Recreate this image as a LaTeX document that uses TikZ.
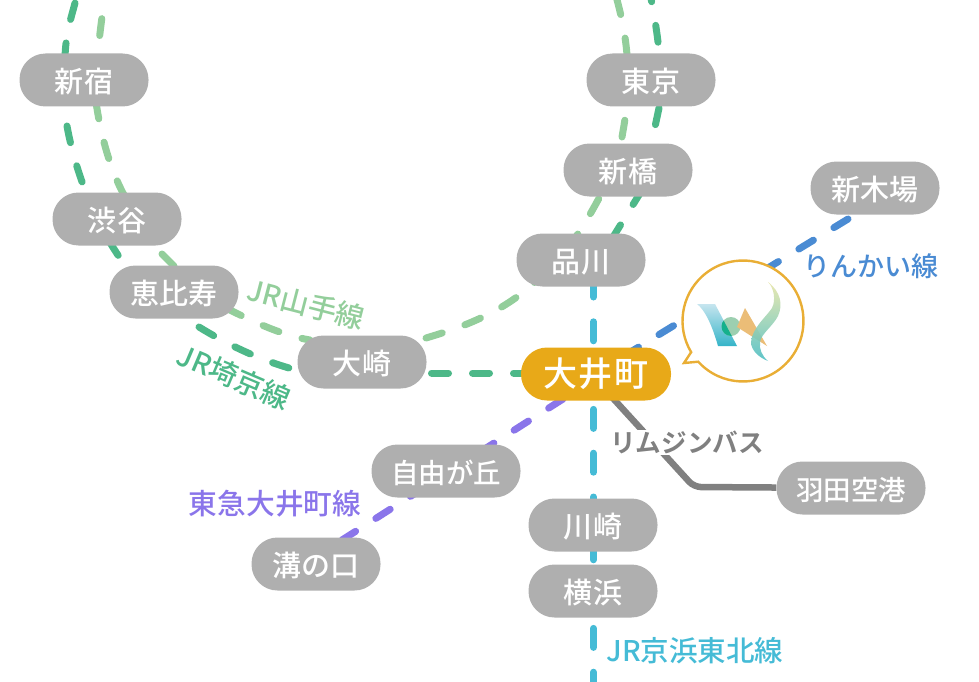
\documentclass[tikz,border=0pt]{standalone}
\usepackage{fontspec}
\setmainfont{Noto Sans CJK JP}
\newfontfamily\stnfont[LetterSpace=1]{Noto Sans CJK JP Medium}
\newfontfamily\stnnarrow{Noto Sans CJK JP Medium}
\newfontfamily\hubfont[LetterSpace=4]{Noto Sans CJK JP Medium}
\newfontfamily\labfont{Noto Sans CJK JP Medium}
\newfontfamily\busfont{Noto Sans CJK JP Bold}
\usetikzlibrary{calc,backgrounds}
\definecolor{stn}{HTML}{AFAFAF}
\definecolor{hub}{HTML}{E8A918}
\definecolor{yama}{HTML}{93CE9B}
\definecolor{saikyo}{HTML}{4DB888}
\definecolor{keihin}{HTML}{45BBD6}
\definecolor{rinkai}{HTML}{4A8BD3}
\definecolor{tokyu}{HTML}{8A75EA}
\definecolor{bus}{HTML}{808080}
\definecolor{ring}{HTML}{E9AE35}
\definecolor{logoa}{HTML}{C6E5EF}
\definecolor{logob}{HTML}{35B4C8}
\definecolor{logoc}{HTML}{9CCFB0}
\definecolor{logod}{HTML}{15B08C}
\definecolor{logoe}{HTML}{EBBD77}
\definecolor{logof}{HTML}{E8E6A8}
\definecolor{logog}{HTML}{8EC88E}
\definecolor{logoh}{HTML}{4DBFC5}
\tikzset{x=1pt,y=-1pt,
 station/.style={fill=stn,rounded corners=26pt,minimum width=129pt,minimum height=53pt,text=white,inner sep=0pt,text height=27pt,text depth=1.8pt,font=\fontsize{29}{29}\selectfont\stnfont},
 widestation/.style={fill=stn,rounded corners=26pt,minimum width=149pt,minimum height=53pt,text=white,inner sep=0pt,text height=27pt,text depth=1.8pt,font=\fontsize{27.5}{27.5}\selectfont\stnnarrow},
 hubst/.style={fill=hub,rounded corners=26pt,minimum width=150pt,minimum height=53pt,text=white,inner sep=0pt,font=\fontsize{34}{34}\selectfont\hubfont},
 rail/.style={line width=7pt,line cap=round,dash pattern=on 17pt off 24pt},
 longrail/.style={line width=7pt,line cap=round,dash pattern=on 19pt off 24.8pt},
 linelabel/.style={inner sep=0pt}}
\newcommand{\lab}[1]{\fontsize{#1}{#1}\selectfont\labfont}
\begin{document}
\begin{tikzpicture}
\useasboundingbox (0,0) rectangle (979,682);
\node[station] (shinjuku) at (84,80) {新宿};
\node[station] (shibuya) at (117,219) {渋谷};
\node[station] (ebisu) at (174,292) {恵比寿};
\node[station] (osaki) at (362,362) {大崎};
\node[station] (shinagawa) at (581,260) {品川};
\node[station] (shimbashi) at (628,170) {新橋};
\node[station] (tokyo) at (651,80) {東京};
\node[station] (shinkiba) at (875,188) {新木場};
\node[widestation] (haneda) at (851,488) {羽田空港};
\node[widestation] (jiyu) at (446,471) {自由が丘};
\node[station] (mizo) at (316,564) {溝の口};
\node[station] (kawasaki) at (593,525) {川崎};
\node[station] (yokohama) at (593,591) {横浜};
\node[hubst] (oimachi) at (596,374) {大井町};
\coordinate (ytop) at (107,-22);
\coordinate (yend) at (613,-15);
\coordinate (stop) at (75,3);
\coordinate (setop) at (648.5,-15);
\coordinate (kend) at (593.5,700);
\begin{scope}[on background layer]
% JR Yamanote
\draw[rail,yama] (ytop) .. controls (104,5) and (98,40) .. ($(shinjuku)+(12,-2)$);
\draw[rail,yama] ($(shinjuku)+(12,22)$) .. controls (100,130) and (108,165) .. ($(shibuya)+(7,-24)$);
\draw[rail,yama] ($(shibuya)+(45,35)$) -- ($(ebisu)+(2,-24)$);
\draw[rail,yama] ($(ebisu)+(52,16)$) .. controls (250,320) and (280,335) .. ($(osaki)+(-52,-22)$);
\draw[rail,yama] ($(osaki)+(64,-24)$) .. controls (470,325) and (505,310) .. ($(shinagawa)+(-46,22)$);
\draw[rail,yama] ($(shinagawa)+(-13,-12)$) .. controls (580,232) and (592,212) .. ($(shimbashi)+(-22,15)$);
\draw[rail,yama] ($(shimbashi)+(-6,-33)$) .. controls (624,125) and (627,110) .. ($(tokyo)+(-23,10)$);
\draw[rail,yama] ($(tokyo)+(-24,-25)$) .. controls (625,30) and (620,10) .. (yend);
% JR Saikyo
\draw[rail,saikyo] (stop) .. controls (72,15) and (65,35) .. ($(shinjuku)+(-19,-20)$);
\draw[rail,saikyo] ($(shinjuku)+(-17,46)$) .. controls (73,160) and (90,215) .. ($(shibuya)+(3,39)$);
\draw[rail,saikyo] ($(ebisu)+(25,35)$) .. controls (225,343) and (255,358) .. ($(osaki)+(-73,6)$);
\draw[rail,saikyo] ($(osaki)+(69.5,11)$) -- ($(oimachi)+(-66,-1)$);
\draw[rail,saikyo] (setop) .. controls (653,10) and (662,50) .. ($(tokyo)+(9,10)$);
\draw[rail,saikyo] ($(tokyo)+(8,28)$) -- ($(shimbashi)+(22,-20)$);
\draw[rail,saikyo] ($(shimbashi)+(14,20)$) -- ($(shinagawa)+(29,-18)$);
% others
\draw[longrail,keihin] ($(shinagawa)+(12.5,18)$) -- (kend);
\draw[rail,rinkai] ($(oimachi)+(28,-18)$) -- ($(shinkiba)+(-27,31)$);
\draw[rail,tokyu] ($(oimachi)+(-33,25)$) -- ($(mizo)+(26,-24)$);
\draw[line width=6.5pt,bus,rounded corners=7pt] ($(oimachi)+(14,21)$) -- ($(haneda)+(-157,-1)$) -- (haneda);
\end{scope}
% balloon
\coordinate (bc) at (743,321);
\path[fill=white,draw=ring,line width=2.4pt,line join=miter] (684,363) -- ($(bc)+(137.7:60.5)$) arc[start angle=137.7,end angle=-211,radius=60.5] -- cycle;
% logo
\shade[top color=logoa,bottom color=logob] (697,304) -- (715,304) -- (737,346) -- (718,346) .. controls (712,325) and (705,310) .. (697,304) -- cycle;
\fill[fill=logoc] (731,326.5) circle[radius=9.5];
\begin{scope}
\clip (697,304) -- (715,304) -- (737,346) -- (718,346) .. controls (712,325) and (705,310) .. (697,304) -- cycle;
\fill[logod] (731,326.5) circle[radius=9.5];
\end{scope}
\fill[fill=logoe] (745,308) -- (767,346) -- (737,327) -- cycle;
\shade[top color=logof,middle color=logog,bottom color=logoh,opacity=0.9] (768,282) .. controls (774,288) and (776,300) .. (772,308) .. controls (767,316) and (752,328) .. (751,342) .. controls (751,351) and (760,358) .. (768,361) .. controls (762,356) and (759,349) .. (760,342) .. controls (761,334) and (773,326) .. (778,316) .. controls (783,305) and (781,292) .. (768,282) -- cycle;
% labels
\node[linelabel,text=yama,rotate=-14.5,font=\lab{28.5}] (ly) at (306,304) {JR山手線};
\node[linelabel,text=saikyo,rotate=-23,font=\lab{28.5}] (ls) at (234,377) {JR埼京線};
\node[linelabel,text=rinkai,font=\lab{27}] (lr) at (871,266) {りんかい線};
\node[linelabel,text=bus,fill=white,minimum height=25pt,font=\fontsize{25.6}{25.6}\selectfont\busfont] (lb) at (687,442) {リムジンバス};
\node[linelabel,text=tokyu,font=\lab{28.7}] (lt) at (275,504) {東急大井町線};
\node[linelabel,text=keihin,font=\lab{28.5}] (lk) at (695,651) {JR京浜東北線};
\end{tikzpicture}
\end{document}
